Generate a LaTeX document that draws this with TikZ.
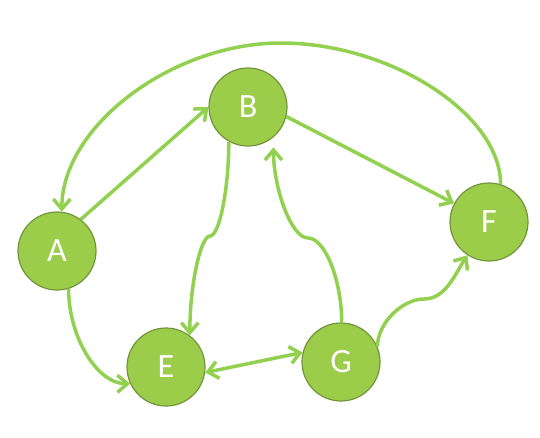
\documentclass[tikz,border=0pt]{standalone}
\usepackage{fontspec}
\setmainfont{Carlito}
\usetikzlibrary{arrows.meta}
\definecolor{edgegreen}{HTML}{92D050}
\definecolor{nodegreen}{HTML}{9BCD4B}
\definecolor{rimgreen}{HTML}{71953A}

\begin{document}
\begin{tikzpicture}[x=1pt, y=-1pt, >={Straight Barb[length=10pt, width=17pt]},
    vertex/.style={circle, draw=rimgreen, line width=1.2pt, fill=nodegreen,
      minimum size=78pt, inner sep=0pt, text=white, font=\fontsize{34}{40}\selectfont},
    link/.style={->, draw=edgegreen, line width=3.5pt}]

    % --- 1. 描画範囲 ---
    \useasboundingbox (0,0) rectangle (540,437);

    % --- 2. 頂点 ---
    \node[vertex] (A) at ( 57,251) {A};
    \node[vertex] (B) at (248,107) {B};
    \node[vertex] (E) at (166,367) {E};
    \node[vertex] (G) at (341,362) {G};
    \node[vertex] (F) at (489,222) {F};

    % 曲線コネクタの折れ点
    \coordinate (topbend) at (281, 43);
    \coordinate (bebend)  at (210,236);
    \coordinate (gbbend)  at (308,238);
    \coordinate (gfbend)  at (424,299);

    % --- 3. 直線の辺 ---
    \draw[link] (A.53) -- (B.180);
    \draw[link] (B.346) -- (F.152);
    \draw[link, <->] (E.352) -- (G.166);

    % --- 4. 曲線の辺 ---
    % F -> A (上を回る)
    \draw[link] (F.73) .. controls +(0,-70) and +(109.5,0) .. (topbend)
      .. controls +(-109.5,0) and +(0,-85) .. (A.83);

    % B -> E
    \draw[link] (B.241) .. controls +(0,47) and +(9.5,0) .. (bebend)
      .. controls +(-9.5,0) and +(0,-50) .. (E.53);

    % A -> E
    \draw[link] (A.287) .. controls +(0,48) and +(-33,0) .. (E.205);

    % G -> B
    \draw[link, shorten >=10pt] (G.89) .. controls +(0,-42) and +(17,0) .. (gbbend)
      .. controls +(-17,0) and +(0,50) .. (B.310);

    % G -> F
    \draw[link] (G.23) .. controls +(0,-23) and +(-22,0) .. (gfbend)
      .. controls +(22,0) and +(-12,18) .. (F.237);

  \end{tikzpicture}
\end{document}
